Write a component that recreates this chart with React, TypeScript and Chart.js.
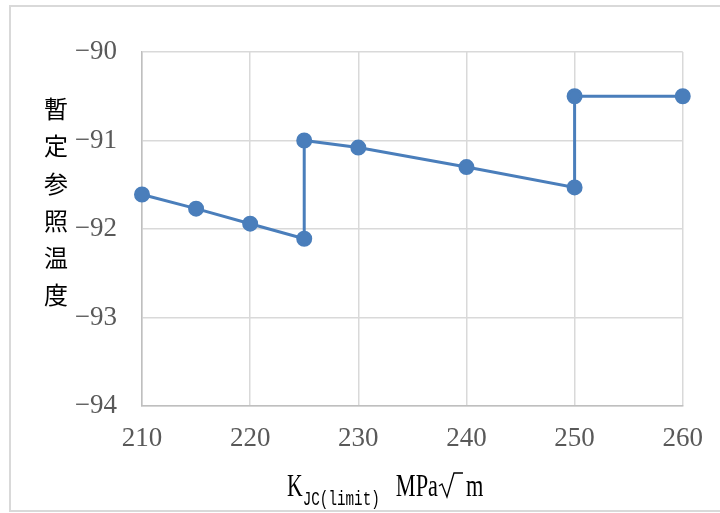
import React, { useEffect, useRef } from "react";
import { Chart, registerables } from "chart.js";

Chart.register(...registerables);

const xValues = [210, 215, 220, 225, 225, 230, 240, 250, 250, 260];
const yValues = [-91.61, -91.77, -91.94, -92.11, -91.0, -91.08, -91.3, -91.53, -90.5, -90.5];
const xTicks = [210, 220, 230, 240, 250, 260];
const yTicks = [-94, -93, -92, -91, -90];
const yTitleChars = ["暫", "定", "参", "照", "温", "度"];
const xTitleMain = "K";
const xTitleSub = "JC(limit)";
const xTitleUnit = "MPa";

const LINE = "#4a7ebb";
const GRID = "#d9d9d9";
const TICK = "#595959";
const SERIF = "'Liberation Serif', 'DejaVu Serif', serif";
const MONO = "'Liberation Mono', 'DejaVu Sans Mono', monospace";

function narrowText(ctx: CanvasRenderingContext2D, text: string, x: number, y: number, font: string, sx: number) {
  ctx.save();
  ctx.font = font;
  ctx.translate(x, y);
  ctx.scale(sx, 1);
  ctx.fillText(text, 0, 0);
  const w = ctx.measureText(text).width * sx;
  ctx.restore();
  return w;
}

const decor = {
  id: "decor",
  afterDraw(chart: any) {
    const ctx = chart.ctx as CanvasRenderingContext2D;
    ctx.save();
    // outer frame
    ctx.strokeStyle = GRID;
    ctx.lineWidth = 2;
    ctx.beginPath();
    ctx.moveTo(740, 6);
    ctx.lineTo(10, 6);
    ctx.lineTo(10, 511);
    ctx.lineTo(740, 511);
    ctx.stroke();
    // y title, upright stacked characters
    ctx.fillStyle = "#000000";
    ctx.font = "24px 'Noto Sans CJK JP', sans-serif";
    ctx.textAlign = "center";
    ctx.textBaseline = "middle";
    yTitleChars.forEach((c, i) => {
      ctx.fillText(c, 56, 109 + i * 37.2);
    });
    // x title
    ctx.textAlign = "left";
    ctx.textBaseline = "alphabetic";
    ctx.fillStyle = "#000000";
    let x = 287;
    const base = 496;
    x += narrowText(ctx, xTitleMain, x, base, "31px " + SERIF, 0.7);
    x += narrowText(ctx, xTitleSub, x, base + 9, "21px " + MONO, 0.68) + 16;
    x += narrowText(ctx, xTitleUnit, x, base, "31px " + SERIF, 0.72);
    // radical sign
    ctx.strokeStyle = "#000000";
    ctx.lineWidth = 1.3;
    ctx.beginPath();
    ctx.moveTo(x + 1, base - 10);
    ctx.lineTo(x + 4, base - 12);
    ctx.lineTo(x + 9, base + 1);
    ctx.lineTo(x + 16, base - 23);
    ctx.lineTo(x + 25, base - 23);
    ctx.stroke();
    narrowText(ctx, "m", x + 28, base, "31px " + SERIF, 0.72);
    ctx.restore();
  },
};

export default function App() {
  const ref = useRef<HTMLCanvasElement>(null);
  useEffect(() => {
    if (!ref.current) return;
    const chart = new Chart(ref.current, {
      type: "scatter",
      data: {
        datasets: [
          {
            data: xValues.map((x, i) => ({ x, y: yValues[i] })),
            showLine: true,
            borderColor: LINE,
            backgroundColor: LINE,
            borderWidth: 3,
            pointRadius: 6.5,
            pointHoverRadius: 6.5,
            tension: 0,
            clip: false,
          } as any,
        ],
      },
      options: {
        animation: false,
        responsive: false,
        maintainAspectRatio: false,
        layout: { padding: { left: 0, top: 52, right: 37, bottom: 0 } },
        plugins: { legend: { display: false }, tooltip: { enabled: false } },
        scales: {
          x: {
            type: "linear",
            min: 210,
            max: 260,
            afterBuildTicks: (s: any) => {
              s.ticks = xTicks.map((v) => ({ value: v }));
            },
            afterFit: (s: any) => {
              s.height = 107;
            },
            grid: { color: GRID, lineWidth: 1.5, drawTicks: false },
            border: { color: "#bfbfbf", width: 1.5 },
            ticks: { color: TICK, font: { family: SERIF, size: 27 }, padding: 17, maxRotation: 0 },
          },
          y: {
            type: "linear",
            min: -94,
            max: -90,
            afterBuildTicks: (s: any) => {
              s.ticks = yTicks.map((v) => ({ value: v }));
            },
            afterFit: (s: any) => {
              s.width = 142;
            },
            grid: { color: GRID, lineWidth: 1.5, drawTicks: false },
            border: { color: "#bfbfbf", width: 1.5 },
            ticks: {
              color: TICK,
              font: { family: SERIF, size: 27 },
              padding: 25,
              callback: (v: any) => String(v).replace("-", "\u2212"),
            },
          },
        },
      },
      plugins: [decor],
    });
    return () => chart.destroy();
  }, []);
  return (
    <div style={{ position: "absolute", left: 0, top: 0, width: 720, height: 513, background: "#fff" }}>
      <canvas ref={ref} width={720} height={513} style={{ width: 720, height: 513 }} />
    </div>
  );
}
